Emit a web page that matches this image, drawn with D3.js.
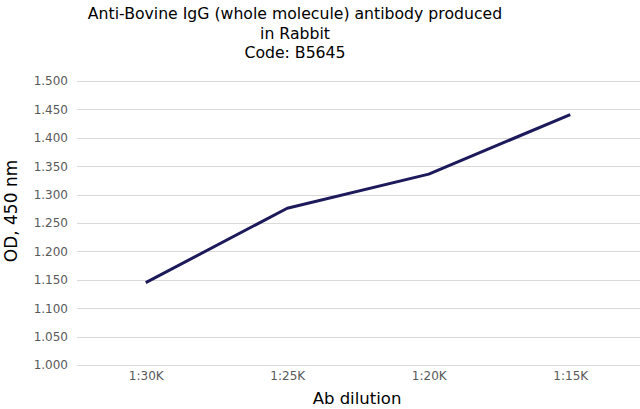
<!DOCTYPE html>
<html><head><meta charset="utf-8">
<script src="https://cdn.jsdelivr.net/npm/d3@7"></script>
<style>
html,body{margin:0;padding:0;background:#fff;}
svg{display:block;font-family:"DejaVu Sans",Verdana,sans-serif;}
</style></head>
<body>
<svg id="chart" width="640" height="409"></svg>
<script>
const categories = ["1:30K", "1:25K", "1:20K", "1:15K"];
const odValues = [1.145, 1.276, 1.336, 1.441];
const yTicks = [1.0, 1.05, 1.1, 1.15, 1.2, 1.25, 1.3, 1.35, 1.4, 1.45, 1.5];
const titleLines = ["Anti-Bovine IgG (whole molecule) antibody produced", "in Rabbit", "Code: B5645"];

const svg = d3.select("#chart");
const plotLeft = 75, plotRight = 641, plotTop = 81, plotBottom = 365;

const x = d3.scalePoint().domain(categories).range([plotLeft, plotRight]).padding(0.5);
const y = d3.scaleLinear().domain([1.0, 1.5]).range([plotBottom, plotTop]);

// grid
svg.append("g").selectAll("line").data(yTicks).join("line")
  .attr("x1", plotLeft + 2).attr("x2", plotRight)
  .attr("y1", d => Math.round(y(d)) + 0.5).attr("y2", d => Math.round(y(d)) + 0.5)
  .attr("stroke", "#d9d9d9").attr("stroke-width", 1);

// y axis labels
const yAxis = d3.axisLeft(y).tickValues(yTicks).tickFormat(d3.format(".3f")).tickSize(0).tickPadding(0);
const gy = svg.append("g").attr("transform", `translate(68,0)`).call(yAxis);
gy.select(".domain").remove();
gy.selectAll("text").attr("fill", "#595959").attr("font-size", "12px")
  .attr("font-family", "'DejaVu Sans',Verdana,sans-serif");

// x axis labels
const xAxis = d3.axisBottom(x).tickSize(0).tickPadding(0);
const gx = svg.append("g").attr("transform", `translate(0,371)`).call(xAxis);
gx.select(".domain").remove();
gx.selectAll("text").attr("fill", "#595959").attr("font-size", "12px")
  .attr("font-family", "'DejaVu Sans',Verdana,sans-serif");

// line
const line = d3.line().x((d, i) => x(categories[i])).y(d => y(d));
svg.append("path").datum(odValues).attr("d", line)
  .attr("fill", "none").attr("stroke", "#1d1a5c").attr("stroke-width", 3)
  .attr("stroke-linejoin", "round");

// title
svg.append("g").selectAll("text").data(titleLines).join("text")
  .attr("x", 295).attr("y", (d, i) => 19 + i * 19.5)
  .attr("text-anchor", "middle").attr("font-size", "15.7px").attr("fill", "#000")
  .text(d => d);

// axis titles
svg.append("text").attr("x", 357).attr("y", 404).attr("text-anchor", "middle")
  .attr("font-size", "16.5px").attr("fill", "#000").text("Ab dilution");
svg.append("text").attr("transform", "translate(17,211) rotate(-90)").attr("text-anchor", "middle")
  .attr("font-size", "17px").attr("fill", "#000").text("OD, 450 nm");
</script>
</body></html>
